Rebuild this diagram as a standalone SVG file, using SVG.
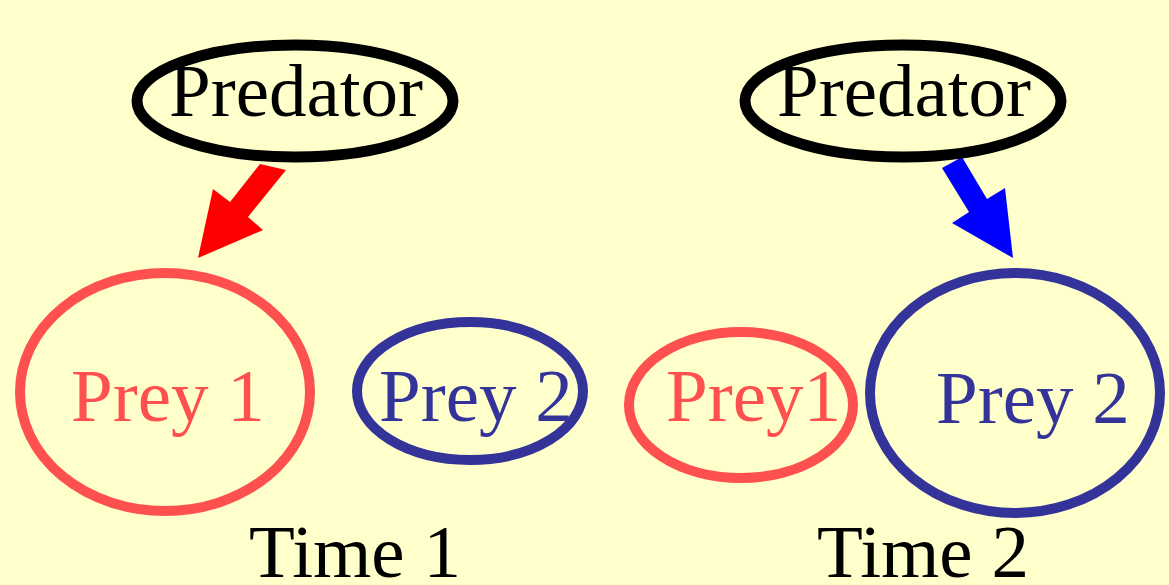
<svg xmlns="http://www.w3.org/2000/svg" width="1169" height="585" viewBox="0 0 1169 585">
<style>
text{font-family:"Liberation Serif","Times New Roman",serif;font-size:75px}
.pred{fill:none;stroke:#000;stroke-width:11}
.red{fill:none;stroke:#FF5050;stroke-width:10}
.blue{fill:none;stroke:#333399;stroke-width:10}
.tred{fill:#FF5050}
.tblue{fill:#333399}
.tblk{fill:#000}
</style>
<rect width="1169" height="585" fill="#FFFFCC"/>
<g id="connectors">
<polygon points="260,164 286,170 248,217 263,230 198,258 213,189 230,202" fill="#FF0000"/>
<polygon points="942,168 962,157 987,199 1005,188 1013,258 952,223 969,212" fill="#0000FF"/>
</g>
<g id="predator1"><ellipse class="pred" cx="295" cy="101" rx="158" ry="56"/><text class="tblk" x="169" y="116">Predator</text></g>
<g id="predator2"><ellipse class="pred" cx="903" cy="101" rx="158" ry="56"/><text class="tblk" x="777" y="116">Predator</text></g>
<g id="prey1-t1"><ellipse class="red" cx="165" cy="392" rx="145" ry="119"/><text class="tred" x="71" y="421">Prey 1</text></g>
<g id="prey2-t1"><ellipse class="blue" cx="470" cy="391" rx="113" ry="69"/><text class="tblue" x="379" y="421">Prey 2</text></g>
<g id="prey1-t2"><ellipse class="red" cx="741" cy="405" rx="112" ry="73"/><text class="tred" x="666" y="421">Prey1</text></g>
<g id="prey2-t2"><ellipse class="blue" cx="1015" cy="393" rx="145" ry="120"/><text class="tblue" x="936" y="423">Prey 2</text></g>
<g id="time1"><text class="tblk" x="249" y="577">Time 1</text></g>
<g id="time2"><text class="tblk" x="817" y="577">Time 2</text></g>
</svg>
